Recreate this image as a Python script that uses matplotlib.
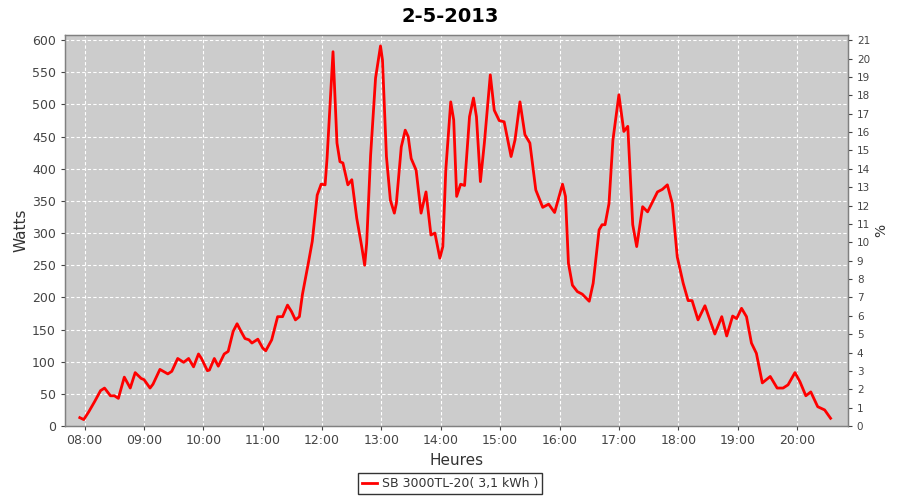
import matplotlib
matplotlib.use("Agg")
import matplotlib.pyplot as plt
from matplotlib.ticker import MultipleLocator, FuncFormatter

times = ["07:55","07:59","08:04","08:10","08:16","08:20","08:26","08:30","08:34","08:40",
         "08:46","08:51","08:57","09:00","09:06","09:09","09:16","09:24","09:28","09:34",
         "09:40","09:45","09:50","09:55","09:58","10:04","10:06","10:11","10:15","10:21",
         "10:25","10:30","10:34","10:38","10:42","10:46","10:49","10:55","11:00","11:03",
         "11:09","11:15","11:20","11:25","11:29","11:33","11:37","11:40","11:46","11:50",
         "11:55","11:59","12:03","12:05","12:11","12:15","12:18","12:21","12:26","12:30",
         "12:35","12:40","12:43","12:45","12:49","12:54","12:59","13:01","13:05","13:09",
         "13:13","13:15","13:20","13:24","13:27","13:30","13:35","13:40","13:45","13:50",
         "13:54","13:59","14:02","14:05","14:10","14:13","14:16","14:20","14:24","14:29",
         "14:33","14:36","14:40","14:44","14:50","14:54","14:59","15:04","15:11","15:15",
         "15:20","15:25","15:30","15:36","15:43","15:49","15:55","16:03","16:06","16:09",
         "16:13","16:18","16:23","16:30","16:34","16:40","16:43","16:46","16:50","16:54",
         "17:00","17:05","17:09","17:14","17:18","17:24","17:29","17:39","17:44","17:49",
         "17:54","17:59","18:05","18:10","18:14","18:20","18:27","18:32","18:37","18:44",
         "18:49","18:55","18:59","19:04","19:09","19:14","19:19","19:25","19:33","19:40",
         "19:46","19:51","19:58","20:03","20:09","20:14","20:21","20:28","20:34"]
watts = [13,10,22,38,55,59,47,47,43,76,
         59,83,74,72,59,65,88,81,85,105,
         99,105,92,112,105,86,87,105,93,112,
         116,147,159,147,136,134,129,135,121,117,
         134,170,170,188,178,165,170,204,253,287,
         359,376,375,417,582,440,411,409,375,383,
         323,279,250,284,421,541,591,569,419,351,
         331,346,434,460,450,416,398,331,364,297,
         300,261,279,398,504,476,357,376,374,481,
         510,481,380,440,546,491,475,473,419,445,
         504,453,440,367,340,345,332,376,357,253,
         219,209,205,194,222,305,313,313,346,445,
         515,458,466,313,279,341,333,364,368,375,
         346,263,222,195,195,165,187,165,143,170,
         140,171,167,183,170,129,113,67,77,59,
         59,64,83,69,47,53,30,25,12]
hour_ticks = list(range(8, 21))
title = "2-5-2013"
series_label = "SB 3000TL-20( 3,1 kWh )"

hours = [int(t[:2]) + int(t[3:]) / 60 for t in times]

plt.rcParams['font.family'] = ['DejaVu Sans']
fig = plt.figure(figsize=(9, 5), dpi=100)
ax = fig.add_axes([0.072, 0.148, 0.870, 0.782])
ax.set_facecolor('#cccccc')
for s in ax.spines.values():
    s.set_color('#808080')
    s.set_linewidth(1)

ax.plot(hours, watts, color='#ff0000', lw=2.0, solid_joinstyle='round')
ax.set_xlim(7.664, 20.857)
ax.set_ylim(0, 608)
ax.yaxis.set_major_locator(MultipleLocator(50))
ax.set_xticks(hour_ticks)
ax.xaxis.set_major_formatter(FuncFormatter(lambda v, p: "%02d:00" % int(round(v))))
ax.grid(True, color='white', linestyle=(0, (3, 2)), linewidth=0.8)
ax.tick_params(axis='both', labelsize=9, colors='#444444', length=3, width=0.8)
ax.tick_params(axis='x', pad=3)
ax.set_xlabel("Heures", fontsize=11, color='#333333', labelpad=4)
ax.set_ylabel("Watts", fontsize=11, color='#333333', labelpad=2)

ax2 = ax.twinx()
ax2.set_ylim(0, 21.28)
ax2.yaxis.set_major_locator(MultipleLocator(1))
ax2.tick_params(axis='y', labelsize=7.5, colors='#444444', length=3, width=0.8)
ax2.set_ylabel("%", fontsize=10, color='#333333', labelpad=3)
for s in ax2.spines.values():
    s.set_color('#808080')

fig.suptitle(title, fontsize=14, fontweight='bold', y=0.985)

leg = fig.legend([ax.lines[0]], [series_label], loc='lower center',
                 bbox_to_anchor=(0.5, 0.0), frameon=True, fancybox=False,
                 fontsize=9, handlelength=1.2, handletextpad=0.4,
                 borderpad=0.3, edgecolor='black')
leg.get_frame().set_linewidth(1.0)
for t in leg.get_texts():
    t.set_color('#333333')

fig.savefig("out.png", dpi=100)
